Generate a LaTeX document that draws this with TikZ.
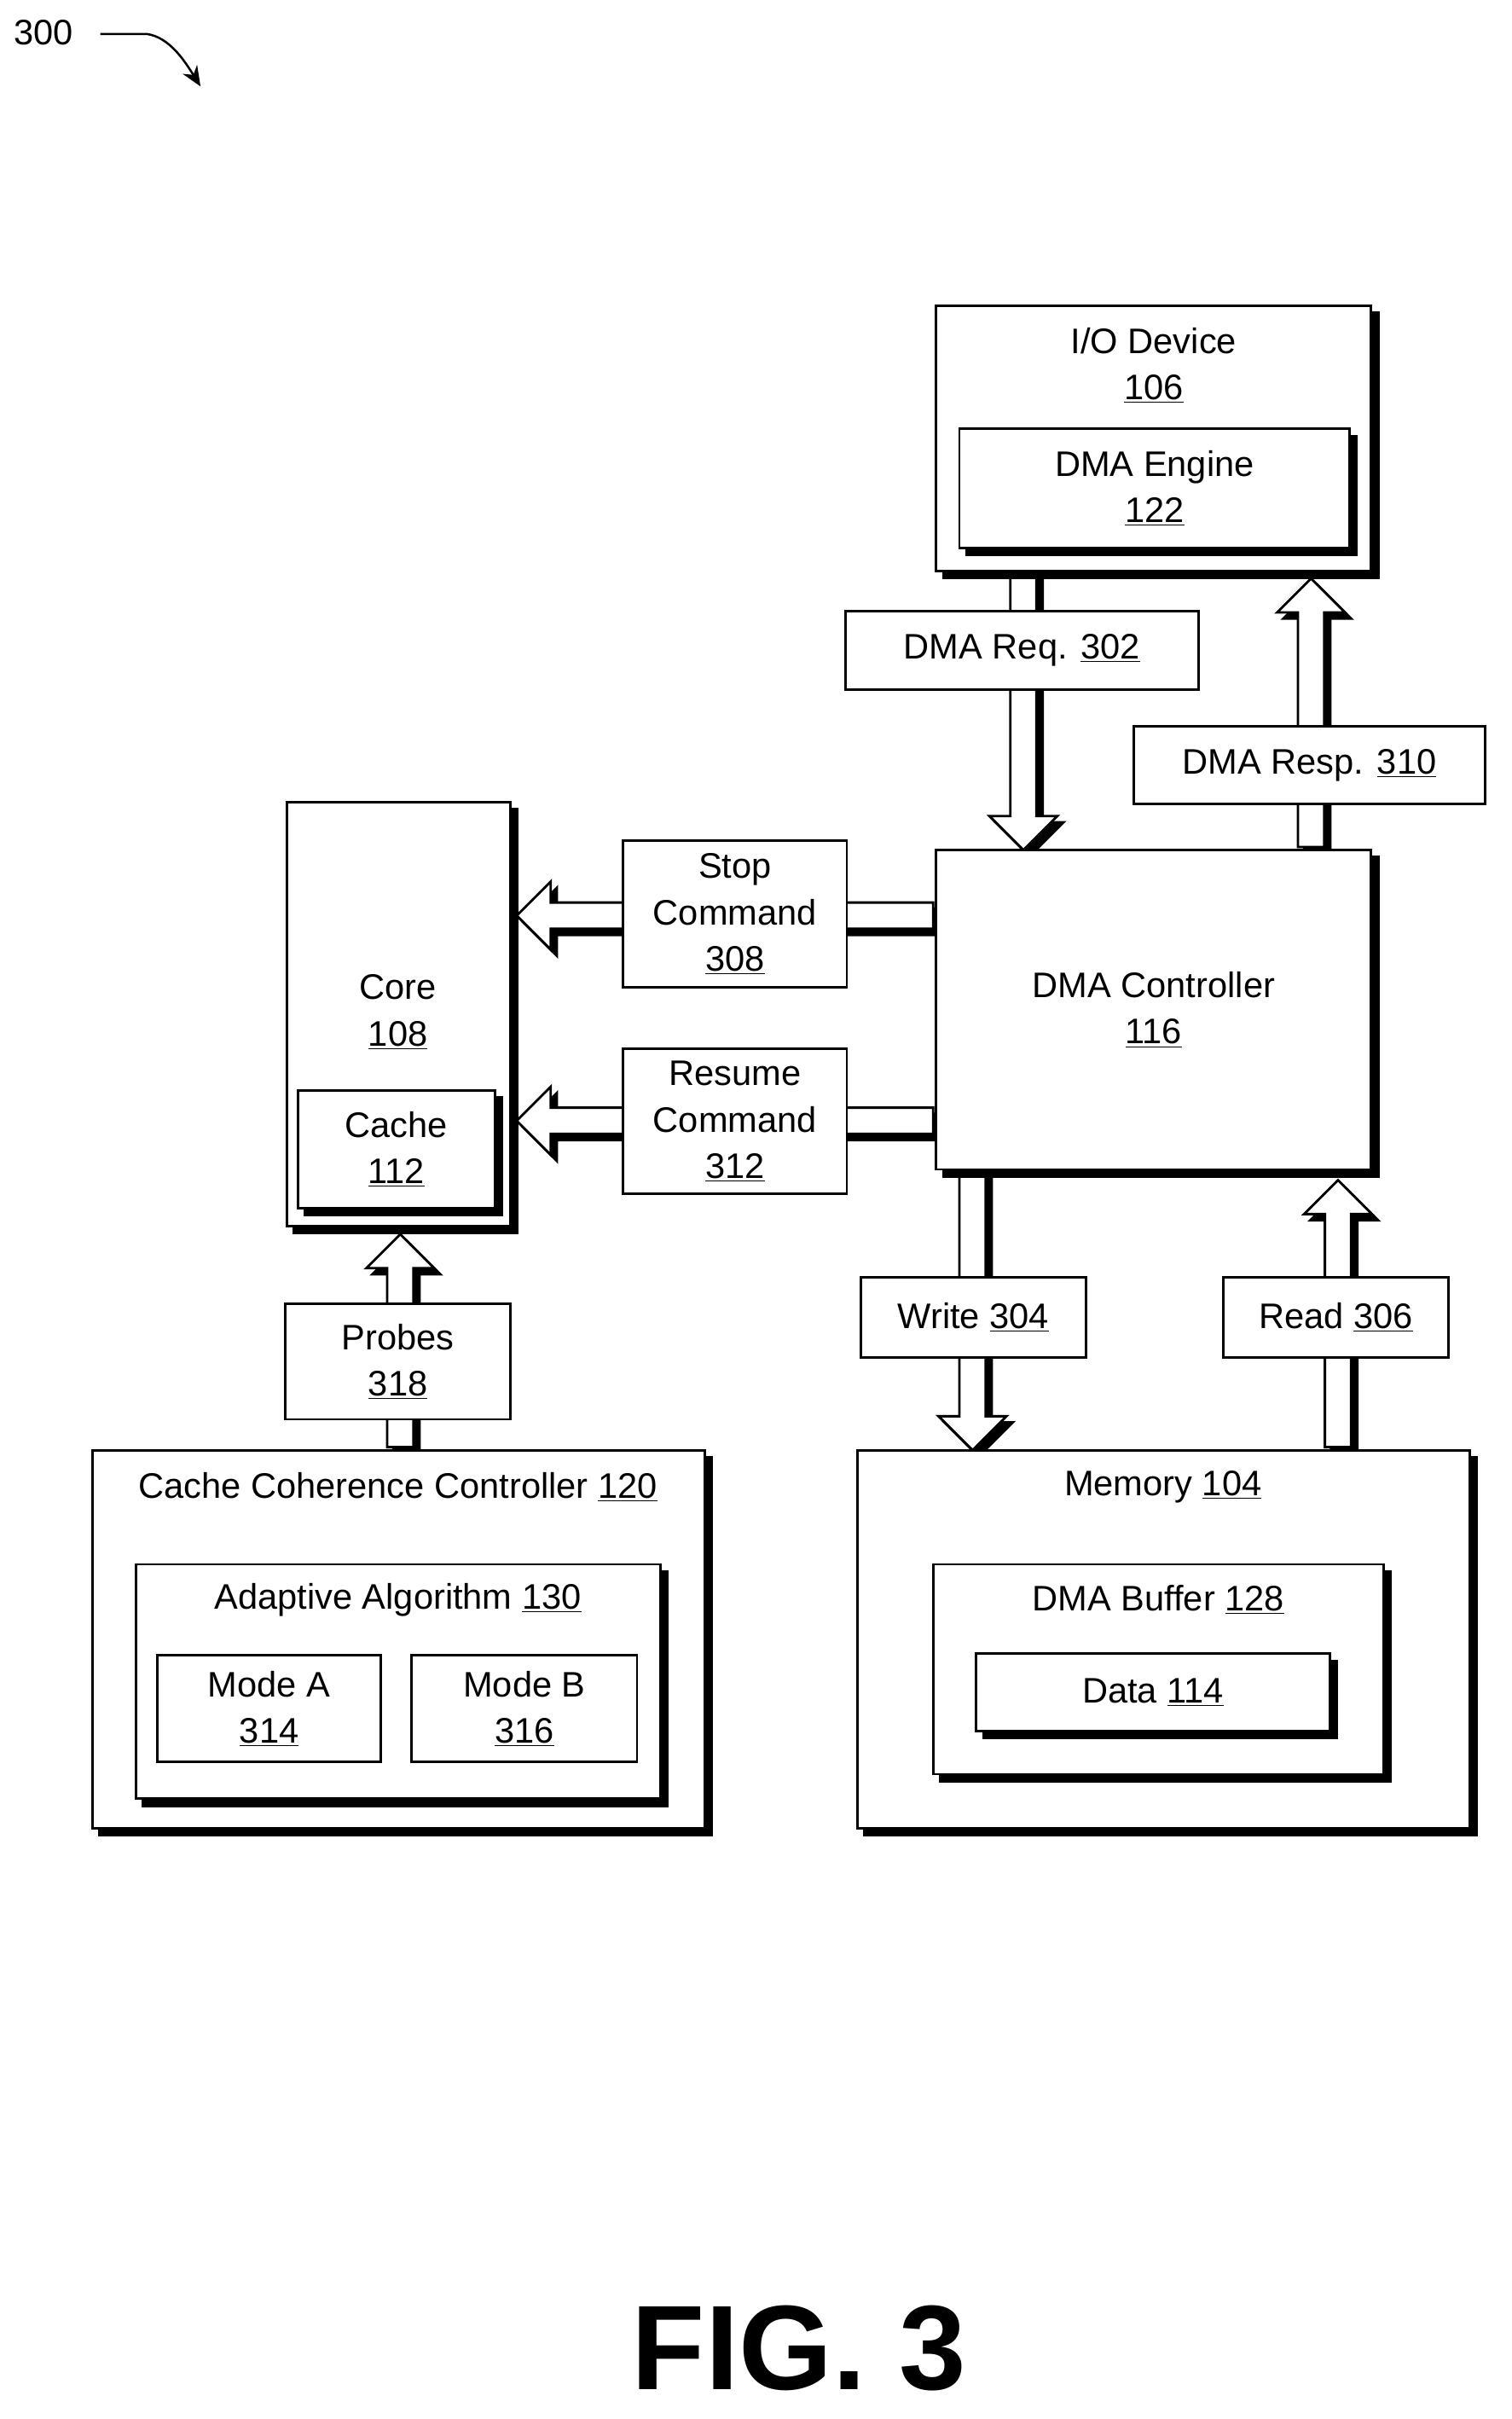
\documentclass[tikz,border=0pt]{standalone}
\usepackage{fontspec}
\setmainfont{Liberation Sans}
\usetikzlibrary{shadows,arrows.meta}
\tikzset{
  bx/.style={draw,line width=1.6pt,fill=white,inner sep=0pt,align=center,
    font=\fontsize{23}{30}\selectfont,
    copy shadow={shadow xshift=4.5pt,shadow yshift=-4.5pt,fill=black,draw=black,line width=1.6pt}},
  lb/.style={draw,line width=1.6pt,fill=white,inner sep=0pt,align=center,font=\fontsize{23}{30}\selectfont},
  tx/.style={inner sep=0pt,align=center,font=\fontsize{23}{30}\selectfont},
  arr/.style={draw,line width=1.6pt,fill=white,line join=miter},
  arrsh/.style={fill=black,draw=black,line width=1.6pt},
}
\newcommand\mybox[7][bx]{\node[#1,minimum width={(#5-#3)*1pt},minimum height={(#6-#4)*1pt}] (#2) at ({(#3+#5)/2},{(#4+#6)/2}) {#7};}
% x y angle length
\newcommand\blk[4]{%
 \begin{scope}[shift={(#1+4,#2+4)},rotate=#3]
  \path[arrsh] (0,-8.5)--(#4-22,-8.5)--(#4-22,-22)--(#4,0)--(#4-22,22)--(#4-22,8.5)--(0,8.5)--cycle;
 \end{scope}
 \begin{scope}[shift={(#1,#2)},rotate=#3]
  \path[arr] (0,-8.5)--(#4-22,-8.5)--(#4-22,-22)--(#4,0)--(#4-22,22)--(#4-22,8.5)--(0,8.5)--cycle;
 \end{scope}}
\newcommand\ul[1]{\underline{#1}}
\begin{document}
\begin{tikzpicture}[x=1pt,y=-1pt]
\useasboundingbox (0,0) rectangle (980,1568);
\fill[white] (0,0) rectangle (980,1568);
% arrows
\blk{663.5}{372}{-90}{179}
\blk{850}{549}{90}{174}
\blk{605}{593.5}{180}{270}
\blk{605}{726.5}{180}{270}
\blk{259.5}{938}{90}{138}
\blk{630.5}{760}{-90}{180}
\blk{867.5}{938}{90}{173}
% boxes
\mybox{io}{607}{198}{889}{370}{}
\node[tx] (iot) at (748,237) {I/O Device\\\ul{106}};
\mybox{dmae}{622}{278}{875}{355}{DMA Engine\\\ul{122}}
\mybox[lb]{req}{548}{396}{777}{447}{DMA Req. \ul{302}}
\mybox[lb]{resp}{735}{471}{963}{521}{DMA Resp. \ul{310}}
\mybox{dmac}{607}{551}{889}{758}{DMA Controller\\\ul{116}}
\mybox{core}{186}{520}{331}{795}{}
\node[tx] (coret) at (258,656) {Core\\\ul{108}};
\mybox{cache}{193}{707}{321}{783}{Cache\\\ul{112}}
\mybox[lb]{stop}{404}{545}{549}{640}{Stop\\Command\\\ul{308}}
\mybox[lb]{res}{404}{680}{549}{774}{Resume\\Command\\\ul{312}}
\mybox[lb]{probes}{185}{845}{331}{920}{Probes\\\ul{318}}
\mybox{ccc}{60}{940}{457}{1185}{}
\node[tx] (ccct) at (258,964) {Cache Coherence Controller \ul{120}};
\mybox{adapt}{88}{1014}{428}{1166}{}
\node[tx] (adaptt) at (258,1037) {Adaptive Algorithm \ul{130}};
\mybox[lb]{ma}{102}{1073}{247}{1142}{Mode A\\\ul{314}}
\mybox[lb]{mb}{267}{1073}{413}{1142}{Mode B\\\ul{316}}
\mybox[lb]{write}{558}{828}{704}{880}{Write \ul{304}}
\mybox[lb]{read}{793}{828}{939}{880}{Read \ul{306}}
\mybox{mem}{556}{940}{953}{1185}{}
\node[tx] (memt) at (754,964) {Memory \ul{104}};
\mybox{buf}{605}{1014}{897}{1150}{}
\node[tx] (buft) at (751,1037) {DMA Buffer \ul{128}};
\mybox{data}{633}{1072}{862}{1122}{Data \ul{114}}
\node[inner sep=0pt,font=\fontsize{78}{78}\selectfont\bfseries] (fig) at (518,1522) {FIG. 3};
\node[tx,anchor=west] (n300) at (9,21) {300};
\coordinate (a0) at (65,22);
\coordinate (a1) at (130,56);
\draw[line width=1.4pt,-{Stealth[length=13pt,width=11pt]}] (a0) -- (95,22) .. controls (110,24) and (120,40) .. (a1);
\end{tikzpicture}
\end{document}
